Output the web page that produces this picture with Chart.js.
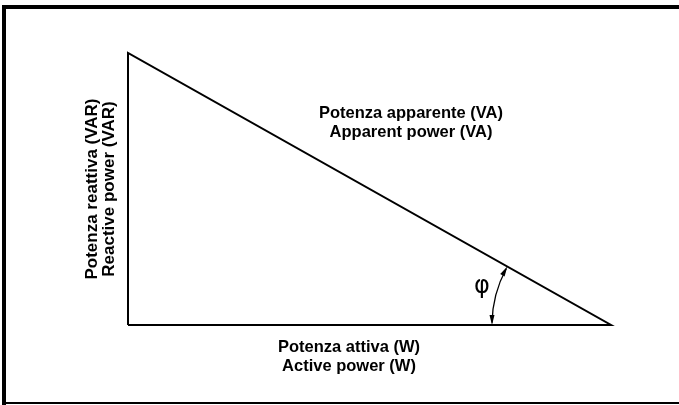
<!DOCTYPE html>
<html>
<head>
<meta charset="utf-8">
<script src="https://cdn.jsdelivr.net/npm/chart.js@4/dist/chart.umd.min.js"></script>
<style>
  html, body { margin: 0; padding: 0; background: #fff; }
  #wrap { position: relative; width: 679px; height: 405px; }
</style>
</head>
<body>
<div id="wrap"><canvas id="myChart" width="679" height="405"></canvas></div>
<script>
// triangle corners (active power P along x, reactive power Q along y)
var cornerP = [0, 0, 483, 0];
var cornerQ = [0, 272, 0, 0];
// angle arc radius (same units)
var phiRadius = 119;

var labelApparent = ['Potenza apparente (VA)', 'Apparent power (VA)'];
var labelActive = ['Potenza attiva (W)', 'Active power (W)'];
var labelReactive = ['Potenza reattiva (VAR)', 'Reactive power (VAR)'];

var points = cornerP.map(function (p, i) { return { x: p, y: cornerQ[i] }; });

var drawing = {
    id: 'drawing',
    afterDatasetsDraw: function (chart) {
        var c = chart.ctx;
        var xs = chart.scales.x, ys = chart.scales.y;
        var px = function (v) { return xs.getPixelForValue(v); };
        var py = function (v) { return ys.getPixelForValue(v); };
        c.save();

        // frame
        c.fillStyle = '#000';
        c.fillRect(2, 5, 677, 4);
        c.fillRect(2, 5, 4, 400);
        c.fillRect(2, 402, 677, 2);

        // angle arc at the right corner
        var cx = px(cornerP[2]), cy = py(0);
        var r = px(phiRadius) - px(0);
        var phi = Math.atan2(cornerQ[1], cornerP[2]);
        c.strokeStyle = '#000';
        c.lineWidth = 1.3;
        c.beginPath();
        c.arc(cx, cy, r, Math.PI + 0.02, Math.PI + phi - 0.02);
        c.stroke();
        function arrow(a, dir) {
            var x = cx + r * Math.cos(a), y = cy + r * Math.sin(a);
            var tx = -Math.sin(a) * dir, ty = Math.cos(a) * dir;
            var nx = -ty, ny = tx;
            c.beginPath();
            c.moveTo(x, y);
            c.lineTo(x - tx * 10 + nx * 2.5, y - ty * 10 + ny * 2.5);
            c.lineTo(x - tx * 10 - nx * 2.5, y - ty * 10 - ny * 2.5);
            c.closePath();
            c.fill();
        }
        arrow(Math.PI, -1);
        arrow(Math.PI + phi, 1);

        // phi symbol
        c.font = '24px "DejaVu Sans"';
        c.textAlign = 'center';
        c.textBaseline = 'middle';
        c.fillText('\u03c6', px(354), py(38));

        // labels
        c.font = 'bold 16.5px "Liberation Sans", Arial';
        c.fillText(labelApparent[0], px(283), py(212));
        c.fillText(labelApparent[1], px(283), py(193));
        c.fillText(labelActive[0], px(221), py(-22));
        c.fillText(labelActive[1], px(221), py(-41));

        c.font = 'bold 17px "Liberation Sans", Arial';
        c.translate(px(-36), py(136));
        c.rotate(-Math.PI / 2);
        c.fillText(labelReactive[0], 0, 0);
        c.fillText(labelReactive[1], 0, 17);
        c.restore();
    }
};

var ctx = document.getElementById('myChart').getContext('2d');
var chart = new Chart(ctx, {
    type: 'scatter',
    data: {
        datasets: [{
            data: points,
            showLine: true,
            borderColor: '#000',
            borderWidth: 2,
            pointRadius: 0,
            fill: false
        }]
    },
    options: {
        responsive: false,
        animation: false,
        layout: { padding: 0 },
        plugins: { legend: { display: false }, tooltip: { enabled: false } },
        scales: {
            x: { type: 'linear', min: -128, max: 551, display: false },
            y: { type: 'linear', min: -80, max: 325, display: false }
        }
    },
    plugins: [drawing]
});
</script>
</body>
</html>
